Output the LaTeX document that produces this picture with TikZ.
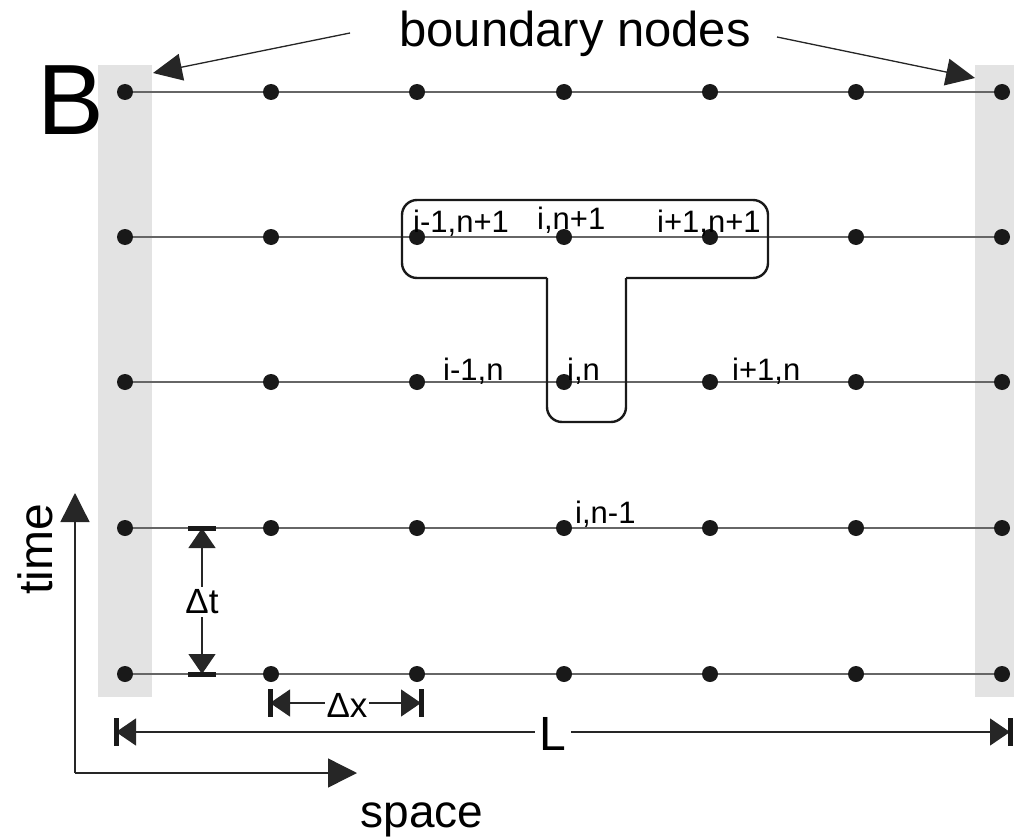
\documentclass[tikz,border=0pt]{standalone}
\usepackage{fontspec}
\setmainfont{Liberation Sans}
\usetikzlibrary{arrows.meta}
\begin{document}
\begin{tikzpicture}[x=1pt,y=-1pt,
  dot/.style={circle,fill=black!90,inner sep=0pt,minimum size=16pt},
  gridline/.style={draw=black!60,line width=1.4pt},
  bigarrow/.style={-{Triangle[length=29pt,width=27pt]},line width=1.3pt,draw=black!85,fill=black!90},
  axisarrow/.style={-{Triangle[length=29pt,width=29pt]},line width=1.4pt,draw=black!85},
  dimline/.style={{Triangle[length=20pt,width=27pt]}-{Triangle[length=20pt,width=27pt]},line width=1.3pt,draw=black!85},
  dimbar/.style={line width=5pt,draw=black!90},
  tshape/.style={draw=black!90,line width=2.4pt,rounded corners=15pt},
  lbl/.style={font=\fontsize{31}{31}\selectfont,anchor=base west,inner sep=0pt},
  bigtxt/.style={font=\fontsize{48}{48}\selectfont,inner sep=0pt},
  dimtxt/.style={font=\fontsize{35}{35}\selectfont,fill=white,inner sep=3pt}
]
\useasboundingbox (0,0) rectangle (1014,840);
% boundary strips
\fill[black!11] (98,65) rectangle (152,697);
\fill[black!11] (975,65) rectangle (1014,697);
% grid nodes
\foreach \y [count=\r] in {92,237,382,528,674} {
  \foreach \x [count=\c] in {125,271,417,564,710,856,1002} {
    \node[dot] (n\c-\r) at (\x,\y) {};
  }
}
\foreach \r in {1,...,5} {
  \foreach \c [evaluate=\c as \d using int(\c+1)] in {1,...,6} {
    \draw[gridline] (n\c-\r) -- (n\d-\r);
  }
}
% T-shaped stencil
\draw[tshape] (547,278) -- (402,278) -- (402,200) -- (768,200) -- (768,278) -- (626,278);
\draw[tshape] (626,278) -- (626,422) -- (547,422) -- (547,278);
% stencil labels
\node[lbl] (l1) at (413,232) {i-1,n+1};
\node[lbl] (l2) at (537,229) {i,n+1};
\node[lbl] (l3) at (657,232) {i+1,n+1};
\node[lbl] (l4) at (443,380) {i-1,n};
\node[lbl] (l5) at (567,380) {i,n};
\node[lbl] (l6) at (732,380) {i+1,n};
\node[lbl] (l7) at (575,523) {i,n-1};
% B
\node[font=\fontsize{100}{100}\selectfont,anchor=base west,inner sep=0pt] (B) at (37,135) {B};
% boundary nodes
\node[font=\fontsize{49}{49}\selectfont,anchor=base,inner sep=0pt] (bn) at (575,47) {boundary nodes};
\coordinate (bls) at (350,33);
\coordinate (ble) at (153,73);
\coordinate (brs) at (777,37);
\coordinate (bre) at (975,78);
\draw[bigarrow] (bls) -- (ble);
\draw[bigarrow] (brs) -- (bre);
% Delta t
\coordinate (dt1) at (202,528);
\coordinate (dt2) at (202,674);
\draw[dimline] (dt1) -- (dt2);
\draw[dimbar] (188,528) -- (216,528);
\draw[dimbar] (188,674) -- (216,674);
\node[dimtxt] (dtl) at (202,602) {Δt};
% Delta x
\coordinate (dx1) at (270,703);
\coordinate (dx2) at (421,703);
\draw[dimline] (dx1) -- (dx2);
\draw[dimbar] (270,689) -- (270,717);
\draw[dimbar] (421,689) -- (421,717);
\node[dimtxt,inner sep=2pt] (dxl) at (347,705) {Δx};
% L
\coordinate (L1) at (116,732);
\coordinate (L2) at (1010,732);
\draw[dimline] (L1) -- (L2);
\draw[dimbar] (116,718) -- (116,746);
\draw[dimbar] (1010,718) -- (1010,746);
\node[font=\fontsize{48}{48}\selectfont,fill=white,inner sep=5pt] (Ll) at (553,734) {L};
% axes
\coordinate (o) at (75,773);
\coordinate (ty) at (75,493);
\coordinate (sx) at (357,773);
\draw[axisarrow] (o) -- (ty);
\draw[axisarrow] (o) -- (sx);
\node[bigtxt,rotate=90,anchor=base] (time) at (52,549) {time};
\node[bigtxt,font=\fontsize{46}{46}\selectfont,anchor=base] (space) at (422,827) {space};
\end{tikzpicture}
\end{document}
